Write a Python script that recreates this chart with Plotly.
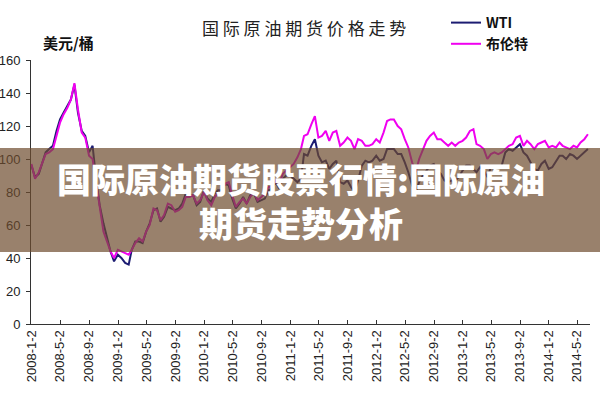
import datetime as dt
import plotly.graph_objects as go

# ---- data (semi-monthly readings, USD/barrel) ----
wti_2008 = [96, 89, 91, 98, 104, 106, 108, 117, 124, 128, 132, 136, 145, 128, 117, 114, 104, 108, 88, 72, 61, 52, 44, 38]
wti_2009 = [42, 40, 37, 36, 45, 50, 50, 49, 56, 61, 69, 70, 62, 65, 71, 70, 69, 70, 73, 79, 78, 78, 72, 74]
wti_2010 = [81, 76, 74, 79, 81, 81, 85, 84, 76, 70, 73, 77, 73, 78, 79, 74, 75, 76, 81, 82, 86, 82, 88, 90]
wti_2011 = [90, 88, 86, 88, 103, 102, 108, 112, 102, 98, 99, 94, 97, 99, 86, 85, 87, 83, 80, 87, 96, 99, 98, 99]
wti_2012 = [102, 99, 100, 106, 106, 106, 103, 103, 98, 92, 84, 80, 86, 90, 93, 96, 97, 93, 91, 87, 86, 87, 87, 89]
wti_2013 = [93, 96, 96, 94, 92, 95, 93, 89, 95, 94, 95, 96, 104, 106, 105, 107, 109, 104, 102, 98, 94, 93, 97, 99]
wti_2014 = [94, 95, 99, 102, 102, 100, 103, 102, 100, 102, 104, 106]

brent_2008 = [97, 88, 92, 98, 103, 104, 106, 114, 122, 127, 131, 136, 146, 130, 116, 113, 102, 100, 86, 70, 56, 50, 44, 40]
brent_2009 = [45, 44, 43, 42, 45, 49, 52, 50, 56, 60, 70, 69, 63, 66, 73, 72, 68, 69, 71, 77, 77, 78, 73, 75]
brent_2010 = [80, 75, 72, 77, 79, 80, 85, 86, 78, 71, 74, 76, 73, 77, 80, 75, 77, 79, 83, 83, 87, 85, 91, 93]
brent_2011 = [95, 97, 101, 106, 114, 115, 121, 126, 113, 114, 117, 111, 116, 117, 108, 110, 113, 111, 106, 112, 111, 108, 108, 109]
brent_2012 = [112, 110, 116, 123, 124, 124, 120, 118, 112, 107, 98, 92, 100, 105, 111, 114, 116, 112, 112, 110, 108, 110, 108, 110]
brent_2013 = [111, 113, 117, 118, 109, 108, 106, 100, 103, 104, 103, 104, 106, 108, 109, 113, 114, 108, 111, 109, 106, 109, 110, 111]
brent_2014 = [107, 108, 107, 110, 108, 107, 106, 108, 107, 110, 112, 115]

wti = wti_2008 + wti_2009 + wti_2010 + wti_2011 + wti_2012 + wti_2013 + wti_2014
brent = brent_2008 + brent_2009 + brent_2010 + brent_2011 + brent_2012 + brent_2013 + brent_2014

tick_labels = ["2008-1-2", "2008-5-2", "2008-9-2", "2009-1-2", "2009-5-2", "2009-9-2",
               "2010-1-2", "2010-5-2", "2010-9-2", "2011-1-2", "2011-5-2", "2011-9-2",
               "2012-1-2", "2012-5-2", "2012-9-2", "2013-1-2", "2013-5-2", "2013-9-2",
               "2014-1-2", "2014-5-2"]
y_ticks = [0, 20, 40, 60, 80, 100, 120, 140, 160]

# dates: 1st and 16th of each month
dates = []
y, m = 2008, 1
while len(dates) < len(wti):
    dates.append(dt.date(y, m, 1))
    dates.append(dt.date(y, m, 16))
    m += 1
    if m > 12:
        m, y = 1, y + 1
dates = dates[:len(wti)]

tick_vals = []
for lab in tick_labels:
    yy, mm, dd = (int(p) for p in lab.split("-"))
    tick_vals.append(dt.date(yy, mm, dd))

# ---- layout helpers (pixel -> paper) ----
L, R, T, B = 31, 10, 60, 76
W, H = 600, 400
PW, PH = W - L - R, H - T - B


def px(x):
    return (x - L) / PW


def py(yv):
    return (H - B - yv) / PH


fig = go.Figure()
fig.add_trace(go.Scatter(x=dates, y=wti, mode="lines", name="WTI",
                         line=dict(color="#1c1c72", width=2)))
fig.add_trace(go.Scatter(x=dates, y=brent, mode="lines", name="布伦特",
                         line=dict(color="#f000f0", width=2)))

fig.update_layout(
    width=W, height=H,
    margin=dict(l=L, r=R, t=T, b=B, autoexpand=False),
    paper_bgcolor="white", plot_bgcolor="white",
    font=dict(family="Liberation Sans, Arial", color="#222"),
    showlegend=True,
    legend=dict(x=px(446), y=py(7), xanchor="left", yanchor="top",
                bgcolor="rgba(0,0,0,0)", tracegroupgap=0,
                font=dict(family="Noto Sans CJK SC", size=14, color="#111", weight=700)),
    xaxis=dict(type="date", range=[dt.date(2007, 12, 30), dt.date(2014, 6, 25)],
               tickmode="array", tickvals=tick_vals, ticktext=tick_labels,
               tickangle=-90, ticks="inside", ticklen=4, tickcolor="#333",
               showline=True, linecolor="#333", linewidth=1, showgrid=False,
               zeroline=False, automargin=False, tickfont=dict(size=13, color="#222")),
    yaxis=dict(range=[0, 160], tickmode="array", tickvals=y_ticks,
               ticktext=[str(v) for v in y_ticks],
               ticks="outside", ticklen=4, tickcolor="#333", ticklabelstandoff=3,
               showline=True, linecolor="#333", linewidth=1, showgrid=False,
               zeroline=False, automargin=False, tickfont=dict(size=13, color="#222")),
)

annotations = [
    dict(text="国 际 原 油 期 货 价 格 走 势", x=px(304), y=py(27), xref="paper", yref="paper",
         showarrow=False, xanchor="center", yanchor="middle",
         font=dict(family="Noto Sans CJK SC", size=17, color="#222")),
    dict(text="美元/桶", x=px(68), y=py(43), xref="paper", yref="paper",
         showarrow=False, xanchor="center", yanchor="middle",
         font=dict(family="Noto Sans CJK SC", size=15, color="#111", weight=700)),
    dict(text="国际原油期货股票行情:国际原油<br>期货走势分析", x=px(301), y=py(200),
         xref="paper", yref="paper", showarrow=False, xanchor="center", yanchor="middle",
         align="center",
         font=dict(family="Noto Sans CJK SC", size=34, color="white", weight=900)),
]
fig.update_layout(annotations=annotations)

fig.add_shape(type="rect", xref="paper", yref="paper",
              x0=px(0), x1=px(600), y0=py(252), y1=py(148),
              fillcolor="rgba(110,75,45,0.7)", line=dict(width=0), layer="above")

fig.write_html("out.html")
